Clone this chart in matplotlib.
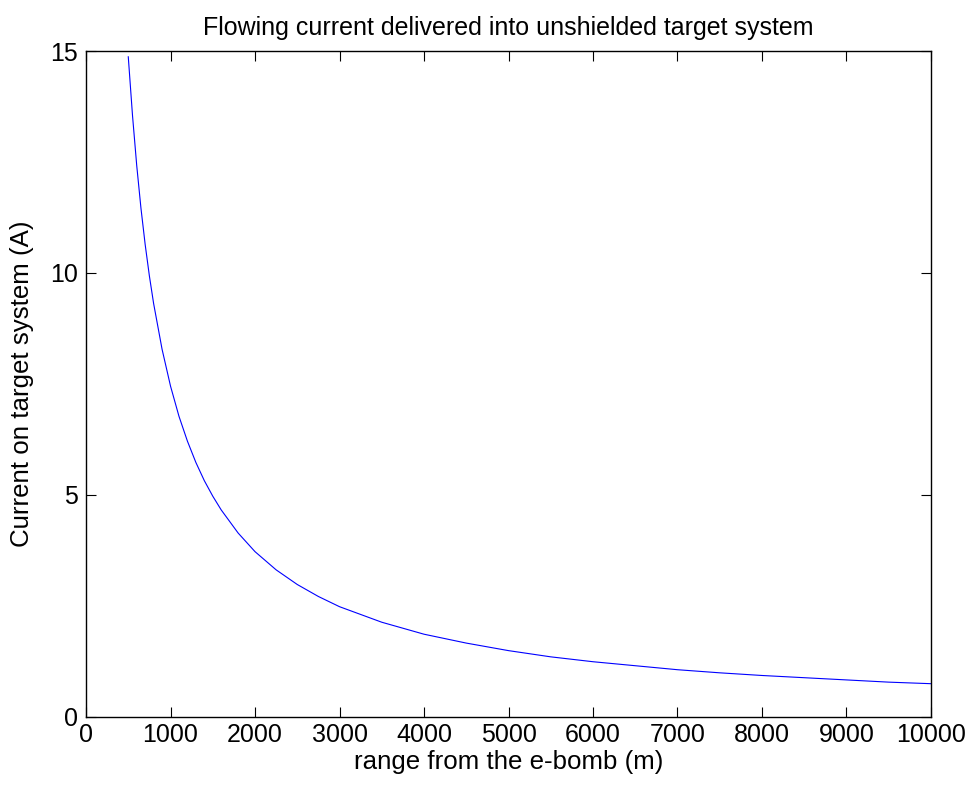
import matplotlib
matplotlib.use("Agg")
import matplotlib.pyplot as plt

# Values
range_m = [500, 550, 600, 650, 700, 750, 800, 900, 1000, 1100, 1200, 1300, 1400,
           1500, 1600, 1800, 2000, 2250, 2500, 2750, 3000, 3500, 4000, 4500,
           5000, 5500, 6000, 6500, 7000, 7500, 8000, 8500, 9000, 9500, 10000]
current_a = [14.87, 13.55, 12.42, 11.46, 10.64, 9.93, 9.31, 8.28, 7.45, 6.77, 6.21,
             5.73, 5.32, 4.97, 4.66, 4.14, 3.72, 3.31, 2.98, 2.71, 2.48, 2.13,
             1.86, 1.66, 1.49, 1.35, 1.24, 1.15, 1.06, 0.99, 0.93, 0.88, 0.83,
             0.78, 0.745]
xticks = list(range(0, 10001, 1000))
yticks = [0, 5, 10, 15]

plt.rcParams['font.family'] = ['Liberation Sans', 'DejaVu Sans']

fig = plt.figure(figsize=(9.72, 7.92), dpi=100)
ax = fig.add_axes([0.0885, 0.095, 0.8693, 0.8406])
ax.plot(range_m, current_a, color=(0, 0, 1), linewidth=0.8)
ax.set_xlim(0, 10000)
ax.set_ylim(0, 15)
ax.set_xticks(xticks)
ax.set_yticks(yticks)
ax.tick_params(direction='in', length=7, width=0.8, top=True, right=True,
               labelsize=18)
ax.tick_params(axis='x', pad=4.8)
ax.tick_params(axis='y', pad=5.8)
for s in ax.spines.values():
    s.set_linewidth(1.0)
ax.set_xlabel('range from the e-bomb (m)', fontsize=18.6, labelpad=2.2)
ax.set_ylabel('Current on target system (A)', fontsize=18.6, labelpad=11.5)
ax.set_title('Flowing current delivered into unshielded target system', fontsize=18, pad=11.8)
fig.savefig('out.png', dpi=100)
